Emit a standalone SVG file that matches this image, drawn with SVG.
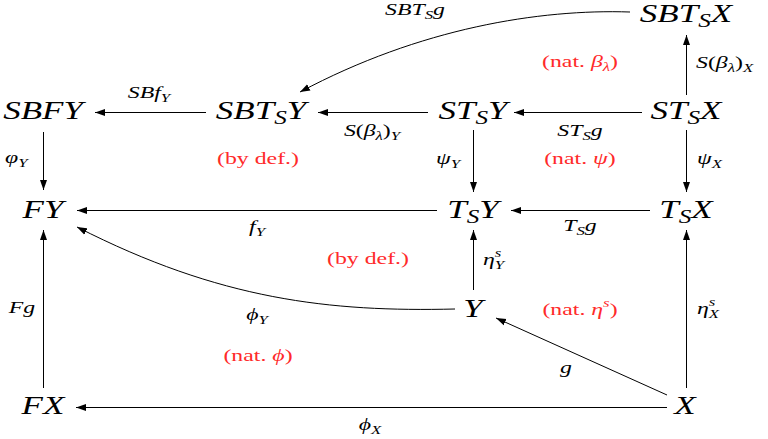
<svg xmlns="http://www.w3.org/2000/svg" width="768" height="439" viewBox="0 0 768 439">
<style>
text{font-family:"Liberation Serif","DejaVu Serif",serif;fill:#000}
.n{font-style:italic;font-size:25px;text-anchor:middle}
.ns{font-size:18px}
.l{font-style:italic;font-size:17px}
.ls{font-size:12px}
.c{text-anchor:middle}
.r{font-size:17px;fill:#ff2a2a;text-anchor:middle}
.up{font-style:normal}
.it{font-style:italic}
.e{fill:none;stroke:#000;stroke-width:1}
</style>
<defs>
<marker id="ah" markerUnits="userSpaceOnUse" markerWidth="10" markerHeight="8" refX="10" refY="4" orient="auto">
<path d="M0,0.5 L10,4 L0,7.5 z" fill="#000"/>
</marker>
</defs>

<g id="SBTSX"><text class="n" transform="translate(686,22) scale(1.4,1)">SBT<tspan class="ns" dy="5">S</tspan><tspan dy="-5">X</tspan></text></g>
<g id="SBTSY"><text class="n" transform="translate(261,119) scale(1.4,1)">SBT<tspan class="ns" dy="5">S</tspan><tspan dy="-5">Y</tspan></text></g>
<g id="SBFY"><text class="n" transform="translate(43,119) scale(1.4,1)">SBFY</text></g>
<g id="STSY"><text class="n" transform="translate(473,119) scale(1.4,1)">ST<tspan class="ns" dy="5">S</tspan><tspan dy="-5">Y</tspan></text></g>
<g id="STSX"><text class="n" transform="translate(686,119) scale(1.4,1)">ST<tspan class="ns" dy="5">S</tspan><tspan dy="-5">X</tspan></text></g>
<g id="FY"><text class="n" transform="translate(43,218) scale(1.4,1)">FY</text></g>
<g id="TSY"><text class="n" transform="translate(473,218) scale(1.4,1)">T<tspan class="ns" dy="5">S</tspan><tspan dy="-5">Y</tspan></text></g>
<g id="TSX"><text class="n" transform="translate(686,218) scale(1.4,1)">T<tspan class="ns" dy="5">S</tspan><tspan dy="-5">X</tspan></text></g>
<g id="Y"><text class="n" transform="translate(473,317) scale(1.4,1)">Y</text></g>
<g id="FX"><text class="n" transform="translate(43,414) scale(1.4,1)">FX</text></g>
<g id="X"><text class="n" transform="translate(685,414) scale(1.4,1)">X</text></g>

<g id="connectors">
<path class="e" marker-end="url(#ah)" d="M630,12 C540,9 420,28 300,92"/>
<path class="e" marker-end="url(#ah)" d="M206,112.5 L95,112.5"/>
<path class="e" marker-end="url(#ah)" d="M428,112.5 L318,112.5"/>
<path class="e" marker-end="url(#ah)" d="M642,112.5 L514,112.5"/>
<path class="e" marker-end="url(#ah)" d="M686.5,95 L686.5,35"/>
<path class="e" marker-end="url(#ah)" d="M43.5,132 L43.5,190"/>
<path class="e" marker-end="url(#ah)" d="M473.5,130 L473.5,192"/>
<path class="e" marker-end="url(#ah)" d="M686.5,130 L686.5,192"/>
<path class="e" marker-end="url(#ah)" d="M437,210.5 L77,210.5"/>
<path class="e" marker-end="url(#ah)" d="M650,210.5 L511,210.5"/>
<path class="e" marker-end="url(#ah)" d="M473.5,290 L473.5,230"/>
<path class="e" marker-end="url(#ah)" d="M686.5,388 L686.5,230"/>
<path class="e" marker-end="url(#ah)" d="M43.5,388 L43.5,230"/>
<path class="e" marker-end="url(#ah)" d="M667,407.5 L76,407.5"/>
<path class="e" marker-end="url(#ah)" d="M667,395 L496,318"/>
<path class="e" marker-end="url(#ah)" d="M455,309 C330,312 220,300 77,227"/>
</g>

<g id="labels">
<text class="l c" transform="translate(415,15) scale(1.4,1)">SBT<tspan class="ls" dy="4">S</tspan><tspan dy="-4">g</tspan></text>
<text class="l" transform="translate(696,68) scale(1.4,1)">S<tspan class="up">(</tspan>β<tspan class="ls" dy="4">λ</tspan><tspan class="up" dy="-4">)</tspan><tspan class="ls" dy="4">X</tspan></text>
<text class="l c" transform="translate(580,136) scale(1.4,1)">ST<tspan class="ls" dy="4">S</tspan><tspan dy="-4">g</tspan></text>
<text class="l c" transform="translate(372,136) scale(1.4,1)">S<tspan class="up">(</tspan>β<tspan class="ls" dy="4">λ</tspan><tspan class="up" dy="-4">)</tspan><tspan class="ls" dy="4">Y</tspan></text>
<text class="l c" transform="translate(149,98) scale(1.4,1)">SBf<tspan class="ls" dy="4">Y</tspan></text>
<text class="l" transform="translate(5,163) scale(1.4,1)">φ<tspan class="ls" dy="4">Y</tspan></text>
<text class="l c" transform="translate(448,164) scale(1.4,1)">ψ<tspan class="ls" dy="4">Y</tspan></text>
<text class="l" transform="translate(697,164) scale(1.4,1)">ψ<tspan class="ls" dy="4">X</tspan></text>
<text class="l c" transform="translate(257,232) scale(1.4,1)">f<tspan class="ls" dy="4">Y</tspan></text>
<text class="l c" transform="translate(580,231) scale(1.4,1)">T<tspan class="ls" dy="4">S</tspan><tspan dy="-4">g</tspan></text>
<text class="l" transform="translate(483,265) scale(1.4,1)">η<tspan class="ls" dy="-8">s</tspan><tspan class="ls" dx="-4.7" dy="12">Y</tspan></text>
<text class="l" transform="translate(697,314) scale(1.4,1)">η<tspan class="ls" dy="-8">s</tspan><tspan class="ls" dx="-4.7" dy="12">X</tspan></text>
<text class="l c" transform="translate(257,320) scale(1.4,1)">ϕ<tspan class="ls" dy="4">Y</tspan></text>
<text class="l c" transform="translate(22,313) scale(1.4,1)">Fg</text>
<text class="l c" transform="translate(566,373) scale(1.4,1)">g</text>
<text class="l c" transform="translate(370,430) scale(1.4,1)">ϕ<tspan class="ls" dy="4">X</tspan></text>

<text class="r" transform="translate(580,67) scale(1.4,1)">(nat. <tspan class="it">β</tspan><tspan class="it ls" dy="4">λ</tspan><tspan dy="-4">)</tspan></text>
<text class="r" transform="translate(258,164) scale(1.4,1)">(by def.)</text>
<text class="r" transform="translate(580,164) scale(1.4,1)">(nat. <tspan class="it">ψ</tspan>)</text>
<text class="r" transform="translate(368,264) scale(1.4,1)">(by def.)</text>
<text class="r" transform="translate(580,315) scale(1.4,1)">(nat. <tspan class="it">η</tspan><tspan class="it ls" dy="-8">s</tspan><tspan dy="8">)</tspan></text>
<text class="r" transform="translate(258,361) scale(1.4,1)">(nat. <tspan class="it">ϕ</tspan>)</text>
</g>
</svg>
